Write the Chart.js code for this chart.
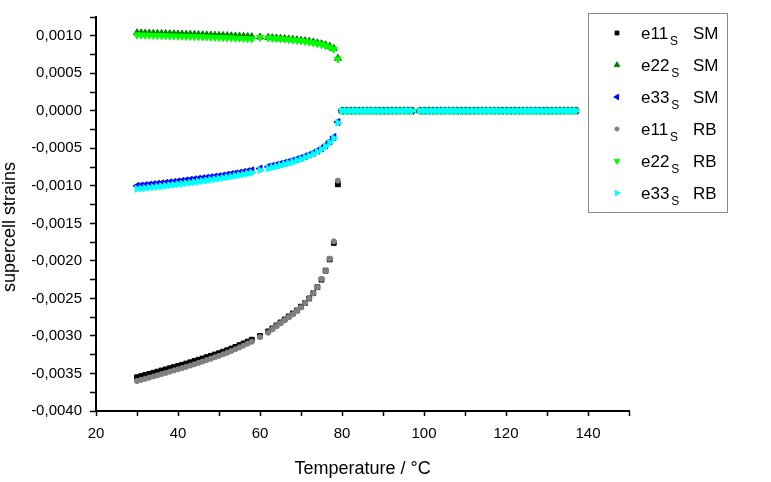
<!DOCTYPE html>
<html>
<head>
<meta charset="utf-8">
<script src="https://cdn.jsdelivr.net/npm/chart.js@4.4.1/dist/chart.umd.min.js"></script>
<style>
  body { margin: 0; background: #fff; }
  #wrap { width: 771px; height: 482px; position: relative; }
</style>
</head>
<body>
<div id="wrap"><canvas id="chartStrain"></canvas></div>
<script>
// temperatures (°C) of the points below the transition
var tempLow = [30, 31, 32, 33, 34, 35, 36, 37, 38, 39, 40, 41, 42, 43, 44, 45, 46, 47, 48, 49,
  50, 51, 52, 53, 54, 55, 56, 57, 58, 60, 62, 63, 64, 65, 66, 67, 68, 69, 70, 71,
  72, 73, 74, 75, 76, 77, 78, 79];

// temperatures above the transition, where every strain is zero
var tempHigh = [80, 81, 82, 83, 84, 85, 86, 87, 88, 89, 90, 91, 92, 93, 94, 95, 96, 97,
  99, 100, 101, 102, 103, 104, 105, 106, 107, 108, 109, 110, 111, 112, 113, 114, 115, 116, 117, 118,
  119, 120, 121, 122, 123, 124, 125, 126, 127, 128, 129, 130, 131, 132, 133, 134, 135, 136, 137];
var strainHigh = [0, 0, 0, 0, 0, 0, 0, 0, 0, 0, 0, 0, 0, 0, 0, 0, 0, 0,
  0, 0, 0, 0, 0, 0, 0, 0, 0, 0, 0, 0, 0, 0, 0, 0, 0, 0, 0, 0,
  0, 0, 0, 0, 0, 0, 0, 0, 0, 0, 0, 0, 0, 0, 0, 0, 0, 0, 0];

var e11SM = [-0.00355, -0.003535, -0.00352, -0.003505, -0.00349, -0.003475, -0.00346, -0.003445, -0.00343, -0.003415,
  -0.0034, -0.003384, -0.003368, -0.003351, -0.003334, -0.003317, -0.0033, -0.003282, -0.003264, -0.003247,
  -0.00323, -0.00321, -0.00319, -0.003168, -0.003146, -0.003123, -0.003099, -0.003075, -0.00305, -0.003,
  -0.00294, -0.0029, -0.00286, -0.00282, -0.00278, -0.00274, -0.0027, -0.00266, -0.00261, -0.00256,
  -0.0025, -0.00243, -0.00235, -0.00225, -0.00213, -0.00198, -0.00176, -0.00098];
var e22SM = [0.00104, 0.001039, 0.001037, 0.001036, 0.001034, 0.001033, 0.001031, 0.00103, 0.001028, 0.001026,
  0.001025, 0.001023, 0.001021, 0.001019, 0.001018, 0.001016, 0.001014, 0.001012, 0.00101, 0.001008,
  0.001006, 0.001004, 0.001002, 0.001, 0.000998, 0.000995, 0.000993, 0.00099, 0.000988, 0.000984,
  0.000978, 0.000975, 0.000971, 0.000967, 0.000963, 0.000958, 0.000953, 0.000947, 0.000941, 0.000934,
  0.000926, 0.000917, 0.000906, 0.000894, 0.000879, 0.00086, 0.000832, 0.0007];
var e33SM = [-0.001, -0.000995, -0.00099, -0.000984, -0.000978, -0.000972, -0.000966, -0.00096, -0.000953, -0.000947,
  -0.00094, -0.000933, -0.000926, -0.000919, -0.000912, -0.000905, -0.000898, -0.000891, -0.000884, -0.000877,
  -0.00087, -0.000861, -0.000852, -0.000843, -0.000834, -0.000825, -0.000815, -0.000804, -0.000793, -0.00077,
  -0.000745, -0.000733, -0.00072, -0.000706, -0.000692, -0.000677, -0.000661, -0.000644, -0.000626, -0.000606,
  -0.000584, -0.00056, -0.000532, -0.0005, -0.00046, -0.00041, -0.00035, -0.00015];
var e11RB = [-0.0036, -0.003585, -0.00357, -0.003555, -0.00354, -0.003524, -0.003508, -0.003492, -0.003476, -0.00346,
  -0.003444, -0.003428, -0.003411, -0.003394, -0.003377, -0.003359, -0.003341, -0.003322, -0.003303, -0.003284,
  -0.003265, -0.003244, -0.003223, -0.0032, -0.003177, -0.003153, -0.003128, -0.003102, -0.003076, -0.003015,
  -0.002955, -0.00291, -0.00287, -0.00283, -0.00279, -0.00275, -0.00271, -0.002665, -0.00262, -0.00256,
  -0.0025, -0.00243, -0.00235, -0.00224, -0.00213, -0.00197, -0.00174, -0.00093];
var e22RB = [0.00101, 0.001009, 0.001007, 0.001006, 0.001004, 0.001003, 0.001001, 0.001, 0.000998, 0.000996,
  0.000995, 0.000993, 0.000991, 0.000989, 0.000988, 0.000986, 0.000984, 0.000982, 0.00098, 0.000978,
  0.000976, 0.000974, 0.000972, 0.00097, 0.000968, 0.000966, 0.000963, 0.000961, 0.000958, 0.000978,
  0.00097, 0.000966, 0.000962, 0.000958, 0.000953, 0.000948, 0.000943, 0.000937, 0.00093, 0.000923,
  0.000915, 0.000906, 0.000895, 0.000882, 0.000867, 0.000848, 0.00082, 0.00069];
var e33RB = [-0.00104, -0.001035, -0.00103, -0.001024, -0.001018, -0.001012, -0.001006, -0.001, -0.000993, -0.000986,
  -0.000979, -0.000972, -0.000965, -0.000958, -0.000951, -0.000943, -0.000936, -0.000928, -0.00092, -0.000912,
  -0.000904, -0.000895, -0.000886, -0.000877, -0.000867, -0.000857, -0.000847, -0.000836, -0.000825, -0.00079,
  -0.000768, -0.000755, -0.000742, -0.000728, -0.000713, -0.000698, -0.000681, -0.000663, -0.000644, -0.000623,
  -0.0006, -0.000575, -0.000546, -0.000513, -0.000473, -0.000422, -0.000365, -0.00016];

var seriesNames = ['e11', 'e22', 'e33', 'e11', 'e22', 'e33'];
var methods = ['SM', 'SM', 'SM', 'RB', 'RB', 'RB'];

var FONT = '"Liberation Sans", Arial, sans-serif';

function points(vals) {
  var pts = [];
  for (var i = 0; i < tempLow.length; i++) pts.push({ x: tempLow[i], y: vals[i] });
  for (var j = 0; j < tempHigh.length; j++) pts.push({ x: tempHigh[j], y: strainHigh[j] });
  return pts;
}

function series(i, vals, color, style, radius, rotation, order) {
  return {
    label: seriesNames[i] + 'S ' + methods[i],
    data: points(vals),
    backgroundColor: color,
    borderColor: color,
    pointStyle: style,
    pointRadius: radius,
    pointHoverRadius: radius,
    pointBorderWidth: 1,
    rotation: rotation,
    showLine: false,
    order: order
  };
}

// boxed legend with subscripts, like the original
var boxLegend = {
  id: 'boxLegend',
  afterDraw: function(chart) {
    var ctx = chart.ctx;
    ctx.save();
    ctx.strokeStyle = '#8a8a8a';
    ctx.lineWidth = 1;
    ctx.strokeRect(588.5, 13.5, 139, 199);
    chart.data.datasets.forEach(function(ds, i) {
      var y = 33 + i * 32;
      ctx.fillStyle = ds.backgroundColor;
      ctx.strokeStyle = ds.borderColor;
      Chart.helpers.drawPoint(ctx, { pointStyle: ds.pointStyle, radius: ds.pointRadius * 0.8, rotation: ds.rotation, borderWidth: 0.8 }, 617, y);
      ctx.fillStyle = '#000';
      ctx.textBaseline = 'middle';
      ctx.textAlign = 'left';
      ctx.font = '17px ' + FONT;
      ctx.fillText(seriesNames[i], 641, y + 1);
      var w = ctx.measureText(seriesNames[i]).width;
      ctx.fillText(methods[i], 693, y + 1);
      ctx.font = '12px ' + FONT;
      ctx.fillText('S', 641 + w + 2, y + 9);
    });
    // y axis title
    ctx.translate(10, 227);
    ctx.rotate(-Math.PI / 2);
    ctx.textAlign = 'center';
    ctx.font = '18px ' + FONT;
    ctx.fillText('supercell strains', 0, 0);
    ctx.restore();
  }
};

var ctx = document.getElementById('chartStrain').getContext('2d');
var chart = new Chart(ctx, {
  type: 'scatter',
  data: {
    datasets: [
      series(0, e11SM, '#000000', 'rect', 3.4, 0, 6),
      series(1, e22SM, '#008000', 'triangle', 4, 0, 5),
      series(2, e33SM, '#0000ff', 'triangle', 4, -90, 4),
      series(3, e11RB, '#808080', 'circle', 2.6, 0, 3),
      series(4, e22RB, '#00ff00', 'triangle', 4, 180, 2),
      series(5, e33RB, '#00ffff', 'triangle', 4, 90, 1)
    ]
  },
  options: {
    responsive: true,
    maintainAspectRatio: false,
    animation: false,
    layout: { padding: { left: 0, top: 14, right: 142, bottom: 0 } },
    plugins: {
      legend: { display: false },
      tooltip: { enabled: false }
    },
    scales: {
      x: {
        type: 'linear',
        min: 20,
        max: 150,
        afterFit: function(scale) { scale.height = 71; },
        border: { color: '#000', width: 2 },
        grid: { display: true, drawOnChartArea: false, tickLength: 5, tickColor: '#000', tickWidth: 1.5 },
        ticks: {
          stepSize: 10,
          maxTicksLimit: 30,
          autoSkip: false,
          maxRotation: 0,
          padding: 9,
          color: '#000',
          font: { family: FONT, size: 15 },
          callback: function(v) { return v % 20 === 0 && v <= 140 ? String(v) : ''; }
        },
        title: {
          display: true,
          text: 'Temperature / °C',
          color: '#000',
          font: { family: FONT, size: 18 },
          padding: { top: 0, bottom: 2 }
        }
      },
      y: {
        type: 'linear',
        min: -0.004,
        max: 0.00125,
        afterFit: function(scale) { scale.width = 96; },
        border: { color: '#000', width: 2 },
        grid: { display: true, drawOnChartArea: false, tickLength: 6, tickColor: '#000', tickWidth: 1.5 },
        ticks: {
          stepSize: 0.00025,
          maxTicksLimit: 30,
          autoSkip: false,
          padding: 8,
          color: '#000',
          font: { family: FONT, size: 15 },
          callback: function(v) {
            var k = Math.round(v / 0.00025);
            if (k % 2 !== 0 || k === 5) return '';
            var s = (k * 0.00025).toFixed(4);
            if (k === 0) s = '0.0000';
            return s.replace('.', ',');
          }
        }
      }
    }
  },
  plugins: [boxLegend]
});
</script>
</body>
</html>
